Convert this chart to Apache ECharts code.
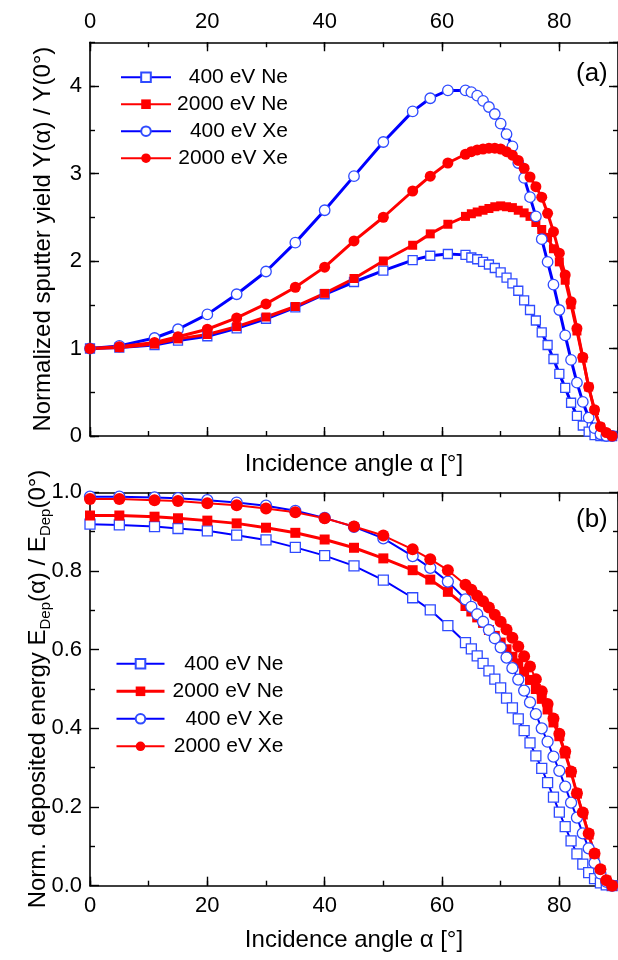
<!DOCTYPE html>
<html>
<head>
<meta charset="utf-8">
<script src="https://cdn.jsdelivr.net/npm/echarts@6/dist/echarts.min.js"></script>
<style>html,body{margin:0;padding:0;background:#fff}#c{width:618px;height:960px}</style>
</head>
<body>
<div id="c"></div>
<script>
// ---- data ----
const angles = [0,5,11,15,20,25,30,35,40,45,50,55,58,61,64,65,66,67,68,69,70,71,72,73,74,75,76,77,78,79,80,81,82,83,84,85,86,87,88,89];
const seriesNames = ['400 eV Ne','2000 eV Ne','400 eV Xe','2000 eV Xe'];
// panel (a): normalized sputter yield
const yieldNe400  = [1.00,1.01,1.04,1.09,1.14,1.23,1.34,1.47,1.62,1.76,1.89,2.01,2.06,2.08,2.07,2.04,2.02,1.99,1.96,1.92,1.87,1.81,1.745,1.66,1.55,1.44,1.32,1.185,1.04,0.88,0.71,0.55,0.38,0.23,0.12,0.05,0.01,0,0,0];
const yieldNe2000 = [1.00,1.01,1.05,1.11,1.16,1.25,1.36,1.48,1.63,1.80,2.00,2.18,2.31,2.42,2.51,2.54,2.56,2.58,2.60,2.62,2.63,2.62,2.61,2.58,2.55,2.51,2.44,2.36,2.27,2.14,1.99,1.78,1.50,1.20,0.89,0.56,0.29,0.10,0.03,0];
const yieldXe400  = [1.00,1.03,1.12,1.22,1.39,1.62,1.88,2.21,2.58,2.97,3.36,3.71,3.86,3.95,3.95,3.93,3.89,3.83,3.76,3.68,3.57,3.45,3.31,3.12,2.95,2.73,2.51,2.25,1.99,1.73,1.44,1.15,0.87,0.61,0.39,0.21,0.09,0.02,0,0];
const yieldXe2000 = [1.00,1.02,1.07,1.135,1.22,1.35,1.51,1.70,1.93,2.23,2.50,2.80,2.97,3.12,3.22,3.25,3.27,3.28,3.29,3.29,3.28,3.25,3.21,3.15,3.06,2.96,2.85,2.73,2.545,2.335,2.09,1.84,1.535,1.23,0.90,0.56,0.30,0.106,0.04,0];
// panel (b): normalized deposited energy
const edepNe400  = [0.919,0.917,0.913,0.908,0.902,0.891,0.879,0.860,0.839,0.813,0.777,0.732,0.701,0.661,0.618,0.602,0.584,0.565,0.546,0.525,0.503,0.477,0.452,0.424,0.394,0.363,0.330,0.298,0.262,0.225,0.187,0.150,0.114,0.081,0.055,0.033,0.018,0.007,0.002,0];
const edepNe2000 = [0.941,0.941,0.938,0.934,0.928,0.921,0.910,0.897,0.880,0.859,0.832,0.802,0.778,0.747,0.711,0.697,0.682,0.668,0.650,0.635,0.618,0.601,0.582,0.565,0.544,0.523,0.500,0.475,0.448,0.415,0.380,0.336,0.288,0.234,0.181,0.130,0.080,0.040,0.013,0];
const edepXe400  = [0.989,0.989,0.987,0.985,0.980,0.974,0.966,0.953,0.935,0.912,0.883,0.838,0.808,0.773,0.728,0.709,0.690,0.671,0.650,0.629,0.606,0.580,0.553,0.524,0.496,0.466,0.436,0.400,0.366,0.328,0.292,0.252,0.211,0.173,0.133,0.095,0.058,0.031,0.010,0];
const edepXe2000 = [0.983,0.983,0.980,0.978,0.972,0.967,0.959,0.949,0.934,0.913,0.890,0.855,0.830,0.802,0.765,0.752,0.737,0.723,0.707,0.689,0.671,0.651,0.630,0.608,0.583,0.557,0.525,0.494,0.462,0.425,0.386,0.341,0.290,0.235,0.186,0.133,0.082,0.042,0.014,0];

// ---- styling ----
const FONT = "'Liberation Sans', Arial, sans-serif";
const BLUE = '#0000ff', MBLUE = '#2f4bff', RED = '#ff0000';
const pair = (ys) => angles.map((a, i) => [a, ys[i]]);

function xAx(grid, pos, interval, len, opts) {
  opts = opts || {};
  return Object.assign({
    type: 'value', gridIndex: grid, position: pos, min: 0, max: 90, interval: interval,
    axisLine: { show: !!opts.line, onZero: false, lineStyle: { color: '#000', width: 1.6 } },
    axisTick: { show: true, inside: true, length: len, lineStyle: { color: '#000', width: 1.4 } },
    axisLabel: { show: !!opts.label, showMaxLabel: false, color: '#000', fontSize: 22, fontFamily: FONT, margin: 9 },
    splitLine: { show: false }
  }, opts.extra || {});
}
function yAx(grid, pos, max, interval, len, opts) {
  opts = opts || {};
  return Object.assign({
    type: 'value', gridIndex: grid, position: pos, min: 0, max: max, interval: interval,
    axisLine: { show: !!opts.line, onZero: false, lineStyle: { color: '#000', width: 1.6 } },
    axisTick: { show: true, inside: true, length: len, lineStyle: { color: '#000', width: 1.4 } },
    axisLabel: { show: !!opts.label, showMaxLabel: opts.showMax !== undefined ? opts.showMax : false, color: '#000', fontSize: 22, fontFamily: FONT, margin: 8, formatter: opts.fmt },
    splitLine: { show: false }
  }, opts.extra || {});
}

const xAxes = [
  xAx(0, 'bottom', 20, 9, { line: true, extra: { name: 'Incidence angle α [°]', nameLocation: 'middle', nameGap: 16, nameMoveOverlap: false, nameTextStyle: { color: '#000', fontSize: 24, fontFamily: FONT } } }),
  xAx(0, 'bottom', 10, 5, {}),
  xAx(0, 'top', 20, 9, { line: true, label: true }),
  xAx(0, 'top', 10, 5, {}),
  xAx(1, 'bottom', 20, 9, { line: true, label: true, extra: { name: 'Incidence angle α [°]', nameLocation: 'middle', nameGap: 43, nameMoveOverlap: false, nameTextStyle: { color: '#000', fontSize: 24, fontFamily: FONT } } }),
  xAx(1, 'bottom', 10, 5, {}),
  xAx(1, 'top', 20, 9, { line: true }),
  xAx(1, 'top', 10, 5, {})
];
const yAxes = [
  yAx(0, 'left', 4.5, 1, 9, { line: true, label: true, extra: { name: 'Normalized sputter yield Y(α) / Y(0°)', nameLocation: 'middle', nameGap: 35, nameMoveOverlap: false, nameTextStyle: { color: '#000', fontSize: 24, fontFamily: FONT } } }),
  yAx(0, 'left', 4.5, 0.5, 5, {}),
  yAx(0, 'right', 4.5, 1, 9, { line: true }),
  yAx(0, 'right', 4.5, 0.5, 5, {}),
  yAx(1, 'left', 1, 0.2, 9, { line: true, label: true, showMax: true, fmt: v => v.toFixed(1), extra: {
    minorTick: { show: true, splitNumber: 2, length: 5, lineStyle: { color: '#000', width: 1.4 } },
    name: '{t|Norm. deposited energy E}{s|Dep}{t|(α) / E}{s|Dep}{t|(0°)}', nameLocation: 'middle', nameGap: 37, nameMoveOverlap: false,
    nameTextStyle: { color: '#000', fontFamily: FONT, rich: {
      t: { fontSize: 24, lineHeight: 30, fontFamily: FONT, color: '#000' },
      s: { fontSize: 15, lineHeight: 15, fontFamily: FONT, color: '#000', verticalAlign: 'bottom' } } } } }),
  yAx(1, 'right', 1, 0.2, 9, { line: true, extra: { minorTick: { show: true, splitNumber: 2, length: 5, lineStyle: { color: '#000', width: 1.4 } } } })
];

function mk(name, data, grid, kind, lw, size) {
  const isBlue = name.indexOf('400 ') === 0;
  const open = isBlue;
  return {
    type: 'line', name: name, data: pair(data),
    xAxisIndex: grid === 0 ? 0 : 4, yAxisIndex: grid === 0 ? 0 : 4,
    symbol: kind, symbolSize: size, showSymbol: true,
    lineStyle: { color: isBlue ? BLUE : RED, width: lw },
    itemStyle: open ? { color: '#fff', borderColor: MBLUE, borderWidth: 1.3 } : { color: RED, borderColor: RED, borderWidth: 0 },
    emphasis: { disabled: true }, animation: false
  };
}

const series = [
  mk(seriesNames[0], yieldNe400, 0, 'rect', 3, 9),
  mk(seriesNames[1], yieldNe2000, 0, 'rect', 3, 9),
  mk(seriesNames[2], yieldXe400, 0, 'circle', 3, 10.5),
  mk(seriesNames[3], yieldXe2000, 0, 'circle', 3, 11),
  mk(seriesNames[0], edepNe400, 1, 'rect', 2, 10),
  mk(seriesNames[1], edepNe2000, 1, 'rect', 3, 10),
  mk(seriesNames[2], edepXe400, 1, 'circle', 2, 11),
  mk(seriesNames[3], edepXe2000, 1, 'circle', 2, 12)
];

const legendText = (w) => ({ color: '#000', fontSize: 21, fontFamily: FONT,
  rich: { r: { width: w, align: 'right', fontSize: 21, fontFamily: FONT, color: '#000', lineHeight: 20 } } });

const option = {
  animation: false,
  backgroundColor: '#fff',
  grid: [
    { left: 90, top: 42.25, width: 532.5, height: 393.75 },
    { left: 90, top: 492.3, width: 532.5, height: 393.4 }
  ],
  title: [
    { text: '(a)', left: 571, top: 56, textStyle: { fontSize: 26, fontWeight: 'normal', color: '#000', fontFamily: FONT } },
    { text: '(b)', left: 571, top: 502, textStyle: { fontSize: 26, fontWeight: 'normal', color: '#000', fontFamily: FONT } }
  ],
  legend: [
    { orient: 'vertical', left: 115, top: 61.7, itemWidth: 50, itemHeight: 12, itemGap: 6, selectedMode: false,
      data: seriesNames, formatter: n => '{r|' + n + '}', textStyle: legendText(112) },
    { orient: 'vertical', left: 110, top: 648.3, itemWidth: 48, itemHeight: 12, itemGap: 6.5, selectedMode: false,
      data: [
        { name: seriesNames[0], lineStyle: { width: 2 } },
        { name: seriesNames[1], lineStyle: { width: 3 } },
        { name: seriesNames[2], lineStyle: { width: 2 } },
        { name: seriesNames[3], lineStyle: { width: 2 } }
      ], formatter: n => '{r|' + n + '}', textStyle: legendText(114) }
  ],
  xAxis: xAxes,
  yAxis: yAxes,
  series: series
};

const chart = echarts.init(document.getElementById('c'), null, { renderer: 'canvas' });
chart.setOption(option);
</script>
</body>
</html>
